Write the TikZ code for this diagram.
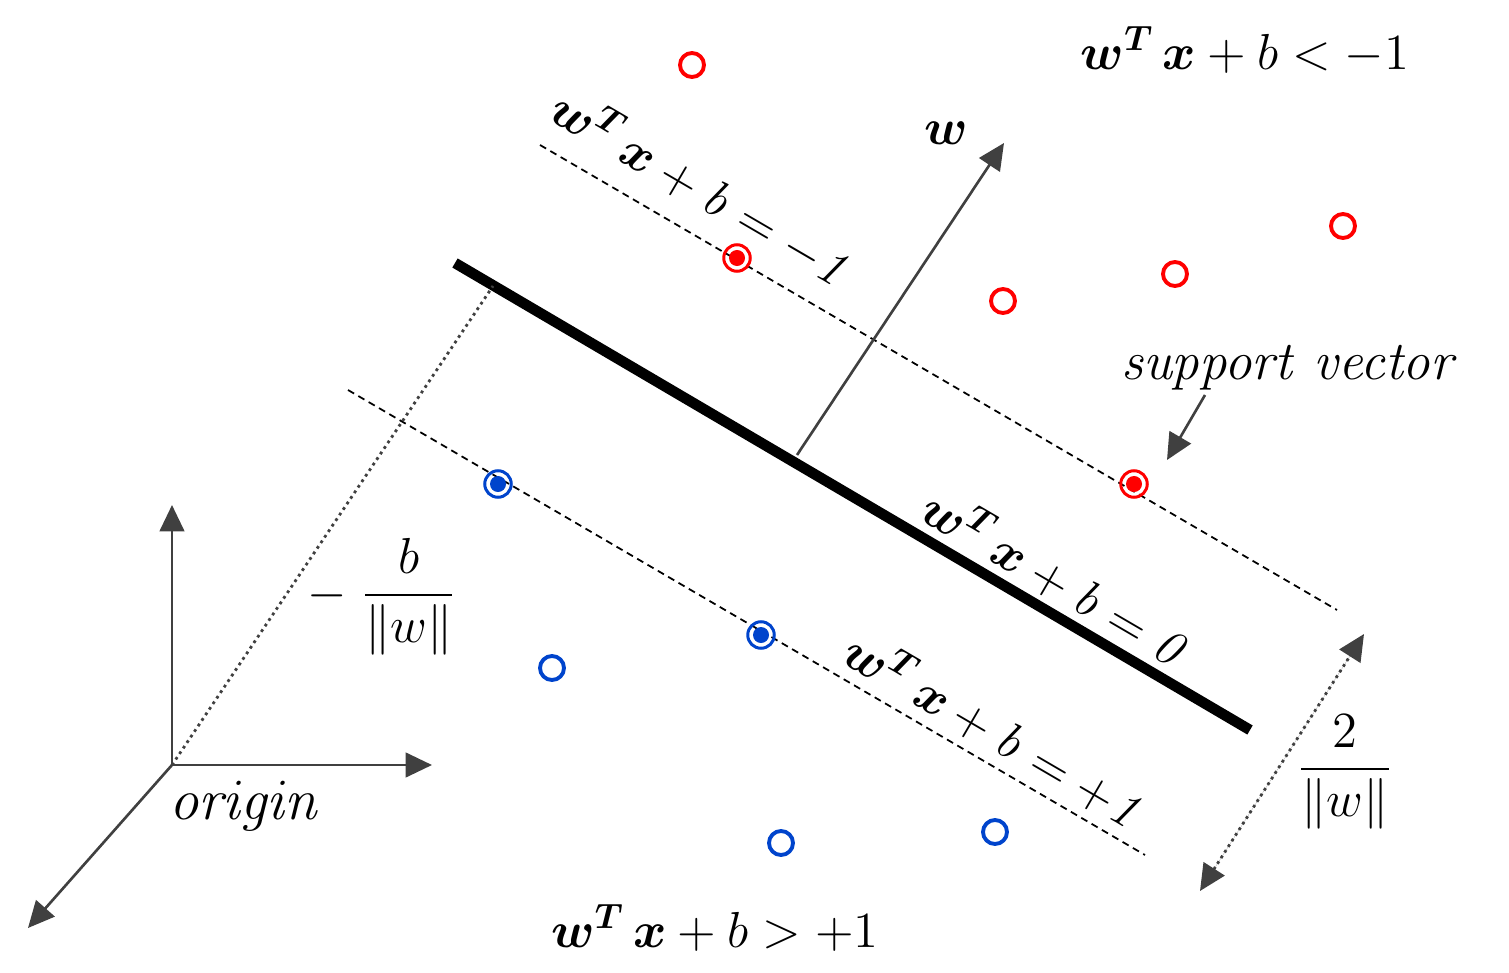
\RequirePackage{fix-cm}
\documentclass[tikz,border=0pt]{standalone}
\usepackage{amsmath,bm}
\usetikzlibrary{arrows.meta}
\definecolor{myred}{RGB}{255,0,0}
\definecolor{myblue}{RGB}{0,68,204}
\definecolor{axgray}{RGB}{64,64,64}
\begin{document}
\begin{tikzpicture}[x=0.01cm,y=-0.01cm,
  opn/.style={circle,draw,line width=1.1pt,minimum size=0.24cm,inner sep=0pt},
  sv/.style={circle,draw,line width=0.85pt,minimum size=0.265cm,inner sep=0pt},
  svdot/.style={circle,fill,minimum size=0.16cm,inner sep=0pt},
  lbl/.style={inner sep=0pt,font=\fontsize{14.4}{17}\selectfont},
  txt/.style={inner sep=0pt,font=\fontsize{16.7}{19}\selectfont},
  frc/.style={inner sep=0pt,font=\fontsize{14.4}{17}\selectfont},
  gar/.style={draw=axgray,line width=0.75pt,-{Triangle[length=7.5pt,width=7pt]},fill=axgray},
  gdot/.style={draw=axgray,line width=0.8pt,dash pattern=on 0.8pt off 1.1pt},
  dsh/.style={draw=black,line width=0.5pt,dash pattern=on 2pt off 1.4pt},
  ]
\useasboundingbox (0,0) rectangle (1509,973);
% lines
\coordinate (h1) at (455,263);
\coordinate (h2) at (1250,730);
\coordinate (u1) at (540,145);
\coordinate (u2) at (1337,610);
\coordinate (l1) at (348,390);
\coordinate (l2) at (1145,855);
\draw[line width=3pt] (h1) -- (h2);
\draw[dsh] (u1) -- (u2);
\draw[dsh] (l1) -- (l2);
% w arrow
\coordinate (wb) at (797,455);
\coordinate (wt) at (1004,143);
\draw[gar] (wb) -- (wt);
\node[lbl] (wl) at (946,133) {$\bm{w}$};
% axes
\coordinate (o) at (172,765);
\coordinate (ay) at (172,505);
\coordinate (ax) at (432,765);
\coordinate (az) at (28,928);
\draw[gar] (o) -- (ay);
\draw[gar] (o) -- (ax);
\draw[gar] (o) -- (az);
\coordinate (hp) at (493,286);
\draw[gdot] (o) -- (hp);
\node[txt] (orig) at (245,806) {$\mathit{origin}$};
% margin arrow
\coordinate (m1) at (1364,634);
\coordinate (m2) at (1200,891);
\draw[gdot,{Triangle[length=7.5pt,width=7pt]}-{Triangle[length=7.5pt,width=7pt]},fill=axgray] (m2) -- (m1);
\node[frc] (frac2) at (1345,772) {$\dfrac{2}{\|w\|}$};
\node[frc] (fracb) at (382,597) {$-\;\dfrac{b}{\|w\|}$};
% points
\node[opn,myred] (r1) at (692,65) {};
\node[opn,myred] (r2) at (1003,301) {};
\node[opn,myred] (r3) at (1175,274) {};
\node[opn,myred] (r4) at (1343,226) {};
\node[sv,myred] (rs1) at (737,258) {};
\node[svdot,myred] at (rs1) {};
\node[sv,myred] (rs2) at (1134,484) {};
\node[svdot,myred] at (rs2) {};
\node[opn,myblue] (b1) at (552,668) {};
\node[opn,myblue] (b2) at (781,843) {};
\node[opn,myblue] (b3) at (995,832) {};
\node[sv,myblue] (bs1) at (498,484) {};
\node[svdot,myblue] at (bs1) {};
\node[sv,myblue] (bs2) at (761,635) {};
\node[svdot,myblue] at (bs2) {};
% support vector label
\node[inner sep=0pt,font=\fontsize{15.6}{19}\selectfont] (svl) at (1290,368) {$\mathit{support\ vector}$};
\coordinate (sa1) at (1205,395);
\coordinate (sa2) at (1167,460);
\draw[gar] (sa1) -- (sa2);
% region labels
\node[lbl] (top) at (1245,50) {$\bm{w}^{\bm{T}}\,\bm{x}+b<-1$};
\node[lbl] (bot) at (715,928) {$\bm{w}^{\bm{T}}\,\bm{x}+b>+1$};
% rotated labels
\node[lbl,rotate=-30.3] (eu) at (703,188) {$\bm{w}^{\bm{T}}\,\bm{x}+\mathit{b}=-\mathit{1}$};
\node[lbl,rotate=-30.3] (e0) at (1057,578) {$\bm{w}^{\bm{T}}\,\bm{x}+\mathit{b}=\mathit{0}$};
\node[lbl,rotate=-30.3] (el) at (996,730) {$\bm{w}^{\bm{T}}\,\bm{x}+\mathit{b}=+\mathit{1}$};
\end{tikzpicture}
\end{document}
